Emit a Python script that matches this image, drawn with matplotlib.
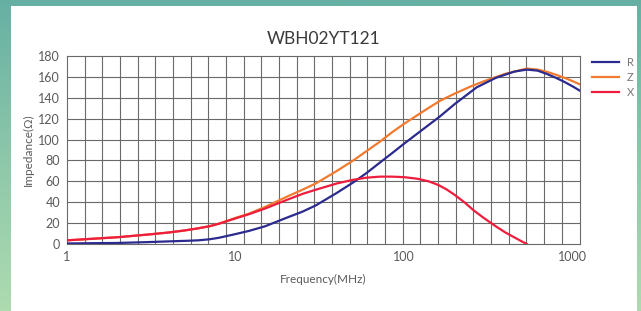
import numpy as np
import matplotlib.pyplot as plt
from matplotlib.patches import Rectangle
from matplotlib.colors import LinearSegmentedColormap

# Valores (frecuencia en MHz, impedancia en ohm)
freq_r = [1, 1.5, 2, 3, 4, 5, 6, 7, 8, 10, 12, 15, 20, 25, 30, 40, 50, 60, 72, 85,
          100, 130, 163, 200, 270, 350, 450, 535, 620, 700, 800, 900, 1000, 1100]
r_vals = [0.5, 0.8, 1, 1.8, 2.5, 3, 3.5, 4.5, 6, 9.5, 12.5, 17, 25, 31, 37, 49, 59, 68, 78, 87,
          96, 110, 122, 134, 150, 159, 165, 167, 166, 163, 159, 155, 151, 147]

freq_z = [1, 2, 3, 4, 5, 6, 7, 8, 10, 12, 15, 20, 25, 30, 40, 50, 60, 72, 85, 100,
          130, 163, 200, 250, 300, 400, 535, 620, 700, 800, 900, 1000, 1100]
z_vals = [3.5, 6.5, 9, 11, 13, 15, 17, 19.5, 25, 29, 35.5, 45, 52, 58, 70, 80, 89, 98, 107, 115,
          127, 137, 144, 151, 156, 163, 168, 167, 165, 162, 159, 156, 153]

freq_x = [1, 2, 3, 4, 5, 6, 7, 8, 10, 12, 15, 20, 25, 30, 40, 50, 60, 72, 85, 100,
          120, 140, 160, 180, 200, 230, 260, 300, 350, 400, 450, 500, 535]
x_vals = [3.5, 6.5, 9, 11, 13, 15, 17, 19.5, 24.5, 28.5, 34, 42, 48, 52, 58, 61.5, 63.5, 64.5, 64.5, 64,
          62.5, 60, 56.5, 52, 47, 39.5, 32, 24.5, 17, 11, 6.5, 2.5, 0]

x_ticks = [1, 10, 100, 1000]
y_ticks = list(range(0, 181, 20))

col_r = '#2b2a8e'
col_z = '#f27a2e'
col_x = '#ee1d3e'

plt.rcParams['font.family'] = ['Lato', 'DejaVu Sans']

fig = plt.figure(figsize=(6.41, 3.11), dpi=100)

# fondo degradado verde azulado con panel blanco
bg = fig.add_axes([0, 0, 1, 1], zorder=-10)
grad = np.linspace(0, 1, 256).reshape(-1, 1)
cmap = LinearSegmentedColormap.from_list('bg', ['#66b0a3', '#8cc7aa', '#aedbb0'])
bg.imshow(grad, aspect='auto', cmap=cmap, extent=[0, 1, 0, 1])
bg.add_patch(Rectangle((11 / 641, 0), (637 - 11) / 641, (311 - 6) / 311,
                       facecolor='white', edgecolor='none'))
bg.set_xlim(0, 1)
bg.set_ylim(0, 1)
bg.axis('off')

ax = fig.add_axes([67 / 641, 1 - 244 / 311, (579.5 - 67) / 641, (244 - 56) / 311])
ax.set_facecolor('white')

xmax = 10 ** ((579.5 - 67) / 168.5)
ax.set_xscale('log')
ax.set_xlim(1, xmax)
ax.set_ylim(0, 180)

ax.plot(freq_r, r_vals, color=col_r, lw=1.6, label='R', zorder=3)
ax.plot(freq_z, z_vals, color=col_z, lw=1.6, label='Z', zorder=2)
ax.plot(freq_x, x_vals, color=col_x, lw=1.6, label='X', zorder=3)

# rejilla: 29 columnas iguales en pantalla, filas cada 20
grid_x = np.logspace(0, np.log10(xmax), 30)
for gx in grid_x[1:-1]:
    ax.axvline(gx, color='#6a6a6a', lw=0.8, zorder=1)
for gy in y_ticks[1:-1]:
    ax.axhline(gy, color='#6a6a6a', lw=0.8, zorder=1)

ax.set_xticks(x_ticks)
ax.set_xticklabels(['1', '10', '100', '1000'])
ax.xaxis.set_minor_locator(plt.NullLocator())
ax.set_yticks(y_ticks)
ax.tick_params(length=0, labelsize=9, colors='#5a5a5a', pad=5)
for s in ax.spines.values():
    s.set_color('#6a6a6a')
    s.set_linewidth(0.8)

ax.set_xlabel('Frequency(MHz)', fontsize=8.5, color='#5a5a5a', labelpad=8)
ax.set_ylabel('Impedance(Ω)', fontsize=8.5, color='#5a5a5a', labelpad=3)
ax.set_title('WBH02YT121', fontsize=12.5, color='#3a3a3a', pad=9)

ax.legend(loc='upper left', bbox_to_anchor=(1.01, 1.035), frameon=False,
          fontsize=8, labelcolor='#777777', handlelength=2.4, handletextpad=0.7,
          labelspacing=0.35, borderaxespad=0.3)

fig.savefig('out.png', dpi=100)
